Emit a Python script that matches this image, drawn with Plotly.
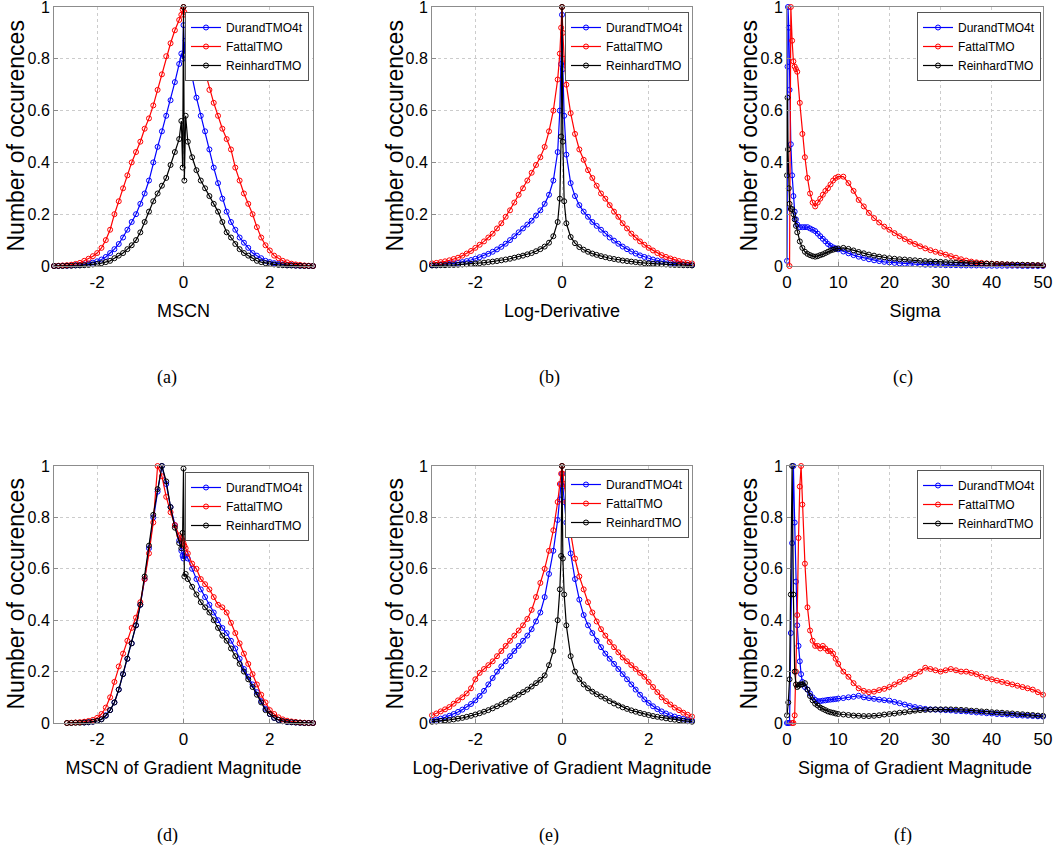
import plotly.graph_objects as go

# ---------------- data ----------------
TMO_NAMES = ["DurandTMO4t", "FattalTMO", "ReinhardTMO"]
TMO_COLORS = ["#0000ff", "#ff0000", "#000000"]

X_SYM = [-3.0, -2.9, -2.8, -2.7, -2.6, -2.5, -2.4, -2.3, -2.2, -2.1,
         -2.0, -1.9, -1.8, -1.7, -1.6, -1.5, -1.4, -1.3, -1.2, -1.1,
         -1.0, -0.9, -0.8, -0.7, -0.6, -0.5, -0.4, -0.3, -0.2, -0.1,
         -0.05, -0.02, 0.0, 0.02, 0.05,
         0.1, 0.2, 0.3, 0.4, 0.5, 0.6, 0.7, 0.8, 0.9, 1.0,
         1.1, 1.2, 1.3, 1.4, 1.5, 1.6, 1.7, 1.8, 1.9, 2.0,
         2.1, 2.2, 2.3, 2.4, 2.5, 2.6, 2.7, 2.8, 2.9, 3.0]

X_SIGMA = [0, 0.1, 0.2, 0.35, 0.5, 0.75, 1, 1.25, 1.5, 1.75, 2,
           2.5, 3, 3.5, 4, 4.5, 5, 5.5, 6, 6.5, 7, 7.5, 8, 8.5, 9, 9.5, 10,
           11, 12, 13, 14, 15, 16, 17, 18, 19, 20,
           21, 22, 23, 24, 25, 26, 27, 28, 29, 30,
           31, 32, 33, 34, 35, 36, 37, 38, 39, 40,
           41, 42, 43, 44, 45, 46, 47, 48, 49, 50]

X_GSIGMA = [0, 0.25, 0.5, 0.75, 1.0, 1.25, 1.5, 1.75, 2.0, 2.25, 2.5, 2.75, 3.0,
            3.5, 4, 4.5, 5, 5.5, 6, 6.5, 7, 7.5, 8, 8.5, 9, 9.5, 10,
            11, 12, 13, 14, 15, 16, 17, 18, 19, 20,
            21, 22, 23, 24, 25, 26, 27, 28, 29, 30,
            31, 32, 33, 34, 35, 36, 37, 38, 39, 40,
            41, 42, 43, 44, 45, 46, 47, 48, 49, 50]

# (a) MSCN
MSCN_DURAND = [0.000, 0.000, 0.001, 0.001, 0.002, 0.003, 0.004, 0.006, 0.009, 0.013,
               0.018, 0.025, 0.035, 0.050, 0.065, 0.085, 0.110, 0.140, 0.170, 0.200,
               0.240, 0.280, 0.330, 0.400, 0.460, 0.520, 0.580, 0.640, 0.710, 0.780,
               0.820, 0.800, 0.930, 0.820, 0.870,
               0.790, 0.730, 0.650, 0.580, 0.520, 0.450, 0.380, 0.320, 0.260, 0.210,
               0.170, 0.140, 0.110, 0.090, 0.070, 0.050, 0.040, 0.030, 0.020, 0.015,
               0.011, 0.008, 0.006, 0.004, 0.003, 0.002, 0.001, 0.001, 0.000, 0.000]
MSCN_FATTAL = [0.000, 0.001, 0.002, 0.003, 0.005, 0.008, 0.012, 0.020, 0.028, 0.038,
               0.050, 0.070, 0.100, 0.140, 0.200, 0.250, 0.300, 0.350, 0.400, 0.440,
               0.480, 0.530, 0.570, 0.620, 0.680, 0.740, 0.810, 0.860, 0.910, 0.950,
               0.970, 0.990, 1.000, 0.980, 0.970,
               0.960, 0.920, 0.870, 0.810, 0.740, 0.680, 0.630, 0.580, 0.530, 0.490,
               0.450, 0.380, 0.330, 0.280, 0.240, 0.200, 0.150, 0.110, 0.080, 0.060,
               0.040, 0.030, 0.020, 0.014, 0.009, 0.006, 0.004, 0.002, 0.001, 0.000]
MSCN_REINHARD = [0.000, 0.000, 0.000, 0.001, 0.001, 0.002, 0.002, 0.003, 0.004, 0.006,
                 0.008, 0.011, 0.015, 0.020, 0.030, 0.040, 0.050, 0.065, 0.080, 0.100,
                 0.130, 0.170, 0.210, 0.250, 0.280, 0.310, 0.340, 0.390, 0.440, 0.490,
                 0.560, 0.380, 1.000, 0.330, 0.580,
                 0.480, 0.420, 0.370, 0.330, 0.300, 0.270, 0.240, 0.210, 0.170, 0.130,
                 0.110, 0.085, 0.065, 0.050, 0.040, 0.030, 0.020, 0.015, 0.011, 0.008,
                 0.006, 0.004, 0.003, 0.002, 0.002, 0.001, 0.001, 0.000, 0.000, 0.000]

# (b) Log-Derivative
LOGD_DURAND = [0.003, 0.004, 0.005, 0.006, 0.008, 0.010, 0.012, 0.015, 0.019, 0.023,
               0.028, 0.034, 0.040, 0.047, 0.055, 0.064, 0.074, 0.086, 0.100, 0.115,
               0.130, 0.145, 0.160, 0.175, 0.195, 0.215, 0.240, 0.275, 0.330, 0.440,
               0.600, 0.780, 0.970, 0.760, 0.580,
               0.430, 0.320, 0.270, 0.235, 0.210, 0.190, 0.170, 0.155, 0.140, 0.125,
               0.110, 0.098, 0.086, 0.075, 0.065, 0.056, 0.048, 0.041, 0.035, 0.030,
               0.025, 0.021, 0.018, 0.015, 0.012, 0.010, 0.008, 0.006, 0.005, 0.004]
LOGD_FATTAL = [0.010, 0.012, 0.015, 0.018, 0.022, 0.027, 0.032, 0.040, 0.048, 0.058,
               0.070, 0.082, 0.095, 0.110, 0.125, 0.145, 0.165, 0.190, 0.215, 0.245,
               0.275, 0.300, 0.330, 0.360, 0.390, 0.420, 0.460, 0.520, 0.600, 0.720,
               0.820, 0.920, 1.000, 0.900, 0.800,
               0.700, 0.590, 0.510, 0.450, 0.410, 0.370, 0.340, 0.310, 0.280, 0.260,
               0.235, 0.210, 0.190, 0.165, 0.145, 0.125, 0.110, 0.095, 0.082, 0.070,
               0.060, 0.050, 0.042, 0.035, 0.029, 0.024, 0.019, 0.015, 0.012, 0.010]
LOGD_REINHARD = [0.002, 0.002, 0.003, 0.003, 0.004, 0.004, 0.005, 0.006, 0.007, 0.008,
                 0.010, 0.011, 0.013, 0.015, 0.017, 0.019, 0.022, 0.025, 0.028, 0.032,
                 0.036, 0.040, 0.045, 0.050, 0.057, 0.065, 0.075, 0.090, 0.115, 0.170,
                 0.260, 0.500, 1.000, 0.480, 0.250,
                 0.165, 0.112, 0.088, 0.073, 0.063, 0.055, 0.048, 0.043, 0.038, 0.034,
                 0.030, 0.027, 0.024, 0.021, 0.019, 0.017, 0.015, 0.013, 0.011, 0.010,
                 0.009, 0.008, 0.007, 0.006, 0.005, 0.004, 0.004, 0.003, 0.003, 0.002]

# (c) Sigma
SIGMA_DURAND = [0.020, 0.770, 1.000, 0.920, 0.680, 0.470, 0.350, 0.270, 0.210, 0.180, 0.160,
                0.150, 0.150, 0.150, 0.150, 0.145, 0.140, 0.135, 0.125, 0.115, 0.105, 0.095,
                0.085, 0.078, 0.072, 0.068, 0.064,
                0.056, 0.049, 0.042, 0.036, 0.031, 0.026, 0.022, 0.019, 0.016, 0.014,
                0.012, 0.010, 0.009, 0.008, 0.007, 0.006, 0.005, 0.005, 0.004, 0.004,
                0.003, 0.003, 0.003, 0.002, 0.002, 0.002, 0.002, 0.002, 0.001, 0.001,
                0.001, 0.001, 0.001, 0.001, 0.001, 0.000, 0.000, 0.000, 0.000, 0.000]
SIGMA_FATTAL = [None, None, None, None, 0.000, 1.000, 0.870, 0.790, 0.770, 0.760, 0.750,
                0.630, 0.510, 0.420, 0.340, 0.280, 0.245, 0.230, 0.245, 0.260, 0.275, 0.290,
                0.300, 0.315, 0.330, 0.340, 0.345,
                0.345, 0.320, 0.290, 0.255, 0.230, 0.205, 0.185, 0.168, 0.152, 0.140,
                0.127, 0.115, 0.104, 0.094, 0.085, 0.076, 0.068, 0.061, 0.055, 0.050,
                0.044, 0.038, 0.032, 0.026, 0.021, 0.017, 0.014, 0.012, 0.010, 0.009,
                0.008, 0.007, 0.006, 0.005, 0.005, 0.004, 0.004, 0.003, 0.003, 0.002]
SIGMA_REINHARD = [0.350, 0.650, 0.450, 0.300, 0.240, 0.220, 0.220, 0.200, 0.180, 0.155, 0.130,
                  0.095, 0.070, 0.055, 0.047, 0.042, 0.038, 0.036, 0.038, 0.042, 0.045, 0.050,
                  0.055, 0.060, 0.063, 0.066, 0.068,
                  0.070, 0.066, 0.060, 0.054, 0.049, 0.044, 0.040, 0.036, 0.033, 0.030,
                  0.028, 0.026, 0.025, 0.023, 0.022, 0.020, 0.019, 0.018, 0.017, 0.016,
                  0.015, 0.014, 0.013, 0.012, 0.011, 0.011, 0.010, 0.009, 0.009, 0.008,
                  0.007, 0.007, 0.006, 0.006, 0.005, 0.005, 0.004, 0.004, 0.003, 0.003]

# (d) MSCN of Gradient Magnitude
GMSCN_DURAND = [None, None, None, None, None, None, None, 0.002, 0.003, 0.005,
                0.008, 0.015, 0.030, 0.050, 0.080, 0.130, 0.190, 0.250, 0.310, 0.380,
                0.460, 0.560, 0.680, 0.800, 0.900, 1.000, 0.930, 0.840, 0.770, 0.710,
                0.670, 0.650, 0.640, 0.650, 0.660,
                0.640, 0.600, 0.560, 0.520, 0.490, 0.460, 0.430, 0.400, 0.370, 0.350,
                0.320, 0.290, 0.250, 0.210, 0.180, 0.150, 0.120, 0.085, 0.055, 0.035,
                0.020, 0.012, 0.007, 0.004, 0.003, 0.002, 0.001, 0.000, 0.000, 0.000]
GMSCN_FATTAL = [None, None, None, 0.000, 0.001, 0.002, 0.003, 0.005, 0.008, 0.012,
                0.020, 0.035, 0.060, 0.100, 0.160, 0.220, 0.270, 0.320, 0.370, 0.410,
                0.470, 0.560, 0.660, 0.780, 1.000, 0.960, 0.880, 0.820, 0.770, 0.730,
                0.720, 0.710, 0.700, 0.690, 0.680,
                0.660, 0.620, 0.600, 0.560, 0.540, 0.520, 0.490, 0.460, 0.450, 0.430,
                0.390, 0.350, 0.310, 0.270, 0.230, 0.190, 0.150, 0.110, 0.080, 0.050,
                0.035, 0.022, 0.014, 0.009, 0.006, 0.004, 0.002, 0.001, 0.000, 0.000]
GMSCN_REINHARD = [None, None, None, 0.000, 0.000, 0.001, 0.001, 0.002, 0.003, 0.005,
                  0.008, 0.014, 0.028, 0.050, 0.080, 0.130, 0.190, 0.250, 0.310, 0.380,
                  0.460, 0.570, 0.690, 0.810, 0.910, 1.000, 0.940, 0.840, 0.760, 0.700,
                  0.680, 0.740, 0.990, 0.570, 0.580,
                  0.560, 0.530, 0.500, 0.470, 0.450, 0.430, 0.400, 0.370, 0.340, 0.320,
                  0.290, 0.260, 0.230, 0.200, 0.170, 0.140, 0.110, 0.080, 0.050, 0.035,
                  0.020, 0.012, 0.007, 0.004, 0.003, 0.002, 0.001, 0.000, 0.000, 0.000]

# (e) Log-Derivative of Gradient Magnitude
GLOGD_DURAND = [0.010, 0.013, 0.017, 0.022, 0.028, 0.035, 0.043, 0.052, 0.062, 0.074,
                0.088, 0.105, 0.125, 0.150, 0.175, 0.200, 0.220, 0.240, 0.260, 0.280,
                0.300, 0.320, 0.340, 0.365, 0.395, 0.430, 0.490, 0.580, 0.670, 0.790,
                0.870, 0.930, 0.970, 0.920, 0.860,
                0.780, 0.660, 0.560, 0.480, 0.420, 0.380, 0.350, 0.320, 0.295, 0.270,
                0.250, 0.230, 0.210, 0.190, 0.170, 0.150, 0.130, 0.110, 0.092, 0.078,
                0.065, 0.054, 0.045, 0.037, 0.030, 0.025, 0.020, 0.016, 0.013, 0.010]
GLOGD_FATTAL = [0.030, 0.037, 0.045, 0.053, 0.062, 0.075, 0.088, 0.100, 0.115, 0.135,
                0.170, 0.195, 0.210, 0.225, 0.240, 0.260, 0.280, 0.300, 0.320, 0.340,
                0.360, 0.380, 0.405, 0.440, 0.490, 0.545, 0.600, 0.670, 0.750, 0.860,
                0.930, 0.970, 1.000, 0.970, 0.930,
                0.860, 0.740, 0.640, 0.570, 0.520, 0.470, 0.430, 0.395, 0.365, 0.340,
                0.315, 0.295, 0.275, 0.255, 0.240, 0.225, 0.210, 0.195, 0.180, 0.160,
                0.140, 0.120, 0.100, 0.085, 0.072, 0.060, 0.050, 0.040, 0.032, 0.025]
GLOGD_REINHARD = [0.005, 0.006, 0.008, 0.010, 0.012, 0.014, 0.017, 0.020, 0.024, 0.028,
                  0.033, 0.038, 0.044, 0.050, 0.057, 0.065, 0.073, 0.082, 0.091, 0.100,
                  0.110, 0.120, 0.130, 0.142, 0.155, 0.168, 0.185, 0.225, 0.280, 0.400,
                  0.520, 0.650, 1.000, 0.640, 0.500,
                  0.380, 0.260, 0.200, 0.170, 0.150, 0.135, 0.122, 0.112, 0.103, 0.095,
                  0.085, 0.076, 0.068, 0.061, 0.055, 0.049, 0.044, 0.039, 0.035, 0.031,
                  0.027, 0.024, 0.021, 0.018, 0.015, 0.013, 0.011, 0.009, 0.007, 0.005]

# (f) Sigma of Gradient Magnitude
GSIGMA_DURAND = [0.000, 0.000, 0.000, 0.350, 0.700, 1.000, 0.780, 0.550, 0.380, 0.300, 0.240, 0.190, 0.160,
                 0.140, 0.130, 0.115, 0.100, 0.090, 0.085, 0.085, 0.087, 0.088, 0.090, 0.091, 0.092, 0.093, 0.095,
                 0.097, 0.100, 0.102, 0.106, 0.100, 0.097, 0.094, 0.091, 0.089, 0.087,
                 0.082, 0.077, 0.072, 0.066, 0.062, 0.058, 0.055, 0.053, 0.052, 0.051,
                 0.050, 0.049, 0.047, 0.046, 0.045, 0.043, 0.041, 0.040, 0.038, 0.037,
                 0.035, 0.034, 0.033, 0.031, 0.030, 0.029, 0.028, 0.027, 0.026, 0.025]
GSIGMA_FATTAL = [None, None, None, None, 0.000, 0.000, 0.030, 0.200, 0.420, 0.720, 0.920, 1.000, 0.850,
                 0.620, 0.450, 0.360, 0.320, 0.300, 0.300, 0.290, 0.300, 0.290, 0.280, 0.280, 0.270, 0.250, 0.230,
                 0.200, 0.180, 0.155, 0.135, 0.125, 0.120, 0.122, 0.128, 0.133, 0.140,
                 0.150, 0.160, 0.170, 0.180, 0.190, 0.200, 0.215, 0.210, 0.205, 0.200,
                 0.205, 0.210, 0.205, 0.200, 0.200, 0.195, 0.190, 0.180, 0.175, 0.170,
                 0.165, 0.160, 0.155, 0.150, 0.145, 0.140, 0.135, 0.130, 0.120, 0.110]
GSIGMA_REINHARD = [0.030, 0.080, 0.170, 0.500, 1.000, 0.500, 0.200, 0.150, 0.140, 0.145, 0.150, 0.150, 0.150,
                   0.155, 0.130, 0.105, 0.088, 0.075, 0.068, 0.060, 0.055, 0.050, 0.045, 0.042, 0.040, 0.037, 0.035,
                   0.033, 0.031, 0.029, 0.028, 0.027, 0.027, 0.028, 0.030, 0.033, 0.035,
                   0.037, 0.040, 0.042, 0.045, 0.048, 0.050, 0.051, 0.052, 0.053, 0.053,
                   0.053, 0.053, 0.052, 0.051, 0.050, 0.048, 0.047, 0.045, 0.044, 0.042,
                   0.041, 0.040, 0.038, 0.037, 0.035, 0.034, 0.032, 0.031, 0.029, 0.028]

X_TITLES = ["MSCN", "Log-Derivative", "Sigma",
            "MSCN of Gradient Magnitude", "Log-Derivative of Gradient Magnitude",
            "Sigma of Gradient Magnitude"]
Y_TITLE = "Number of occurences"
CAPTIONS = ["(a)", "(b)", "(c)", "(d)", "(e)", "(f)"]
Y_TICKVALS = [0, 0.2, 0.4, 0.6, 0.8, 1.0]
Y_TICKTEXT = ["0", "0.2", "0.4", "0.6", "0.8", "1"]
SYM_TICKVALS = [-2, 0, 2]
SYM_TICKTEXT = ["-2", "0", "2"]
SIG_TICKVALS = [0, 10, 20, 30, 40, 50]
SIG_TICKTEXT = ["0", "10", "20", "30", "40", "50"]

PANELS = [
    (X_SYM, [MSCN_DURAND, MSCN_FATTAL, MSCN_REINHARD], "sym"),
    (X_SYM, [LOGD_DURAND, LOGD_FATTAL, LOGD_REINHARD], "sym"),
    (X_SIGMA, [SIGMA_DURAND, SIGMA_FATTAL, SIGMA_REINHARD], "sig"),
    (X_SYM, [GMSCN_DURAND, GMSCN_FATTAL, GMSCN_REINHARD], "sym"),
    (X_SYM, [GLOGD_DURAND, GLOGD_FATTAL, GLOGD_REINHARD], "sym"),
    (X_GSIGMA, [GSIGMA_DURAND, GSIGMA_FATTAL, GSIGMA_REINHARD], "sig"),
]

# ---------------- layout geometry (pixels) ----------------
W, H = 1056, 849
COLS_PX = [(54, 313), (432, 692), (787, 1043)]
ROWS_PX = [(7, 266), (466, 723)]
YTITLE_X_PX = [15, 394, 748]
LEGEND_PX = [(309, 12), (689, 12), (1041, 12), (309, 472), (689, 469), (1041, 470)]
CAPTION_PX = [(167, 377), (549, 377), (903, 377), (167, 835), (549, 835), (903, 835)]

SANS = "Liberation Sans, Arial, Helvetica, sans-serif"
SERIF = "Liberation Serif, Times New Roman, serif"
AXIS_GRAY = "#8c8c8c"

fig = go.Figure()
layout = dict(width=W, height=H, margin=dict(l=0, r=0, t=0, b=0, autoexpand=False),
              paper_bgcolor="white", plot_bgcolor="white", showlegend=True)
annotations = []

for i, (xs, series, kind) in enumerate(PANELS):
    r, c = divmod(i, 3)
    n = i + 1
    sfx = "" if n == 1 else str(n)
    legname = "legend" if n == 1 else f"legend{n}"
    for name, color, ys in zip(TMO_NAMES, TMO_COLORS, series):
        fig.add_trace(go.Scatter(
            x=xs, y=ys, name=name, mode="lines+markers",
            line=dict(color=color, width=1.2),
            marker=dict(symbol="circle-open", size=5, color=color, line=dict(width=1, color=color)),
            xaxis="x" + sfx, yaxis="y" + sfx, legend=legname, cliponaxis=False,
        ))
    x0, x1 = COLS_PX[c]
    y0, y1 = ROWS_PX[r]
    if kind == "sym":
        xr, tv, tt = [-3, 3], SYM_TICKVALS, SYM_TICKTEXT
    else:
        xr, tv, tt = [0, 50], SIG_TICKVALS, SIG_TICKTEXT
    layout["xaxis" + sfx] = dict(
        domain=[x0 / W, x1 / W], range=xr, anchor="y" + sfx, automargin=False,
        tickvals=tv, ticktext=tt, ticks="inside", ticklen=4, tickcolor=AXIS_GRAY,
        showgrid=True, gridcolor="#cccccc", griddash="dot", gridwidth=1,
        showline=True, mirror=True, linecolor=AXIS_GRAY, linewidth=1, zeroline=False,
        tickfont=dict(family=SANS, size=17, color="black"), ticklabelstandoff=1,
        ticklabeloverflow="allow",
        title=dict(text=X_TITLES[i], font=dict(family=SANS, size=18, color="black"), standoff=12),
    )
    layout["yaxis" + sfx] = dict(
        domain=[1 - y1 / H, 1 - y0 / H], range=[0, 1], anchor="x" + sfx, automargin=False,
        tickvals=Y_TICKVALS, ticktext=Y_TICKTEXT, ticks="inside", ticklen=4, tickcolor=AXIS_GRAY,
        showgrid=True, gridcolor="#cccccc", griddash="dot", gridwidth=1,
        showline=True, mirror=True, linecolor=AXIS_GRAY, linewidth=1, zeroline=False,
        tickfont=dict(family=SANS, size=16, color="black"), ticklabeloverflow="allow",
    )
    annotations.append(dict(text=Y_TITLE, textangle=-90, x=YTITLE_X_PX[c] / W,
                            y=1 - (y0 + y1) / 2 / H, xref="paper", yref="paper",
                            showarrow=False, xanchor="center", yanchor="middle",
                            font=dict(family=SANS, size=23, color="black")))
    lx, ly = LEGEND_PX[i]
    layout[legname] = dict(
        x=lx / W, y=1 - ly / H, xanchor="right", yanchor="top",
        bgcolor="white", bordercolor="#555555", borderwidth=1,
        font=dict(family=SANS, size=12, color="black"),
        tracegroupgap=0, itemwidth=30,
    )
    cx, cy = CAPTION_PX[i]
    annotations.append(dict(text=CAPTIONS[i], x=cx / W, y=1 - cy / H, xref="paper", yref="paper",
                            showarrow=False, xanchor="center", yanchor="middle",
                            font=dict(family=SERIF, size=18, color="black")))

layout["annotations"] = annotations
fig.update_layout(**layout)
fig.write_html("out.html", config={"displayModeBar": False},
               post_script="document.body.style.margin='0px';document.body.style.overflow='hidden';")
